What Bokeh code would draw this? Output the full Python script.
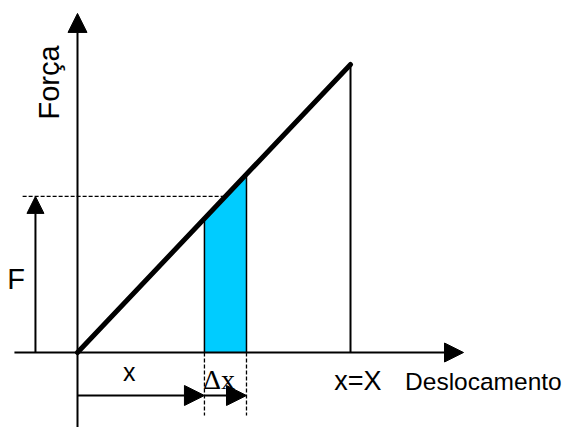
import math
from bokeh.plotting import figure
from bokeh.models import Range1d, Arrow, NormalHead
from bokeh.core.properties import value
from bokeh.embed import file_html
from bokeh.resources import INLINE

# ---- data (diagram units) ----
desloc = [0.0, 10.0]          # displacement from origin to x = X
forca = [0.0, 10.55]          # force along the straight line F = k*x
x_val = 4.65                  # position x of the strip
dx_val = 1.54                 # strip width (Delta x)
axis_labels = ["Força", "Deslocamento"]
point_labels = ["x", "\u0394x", "x=X", "F"]

k = forca[1] / desloc[1]
X = desloc[1]
x2 = x_val + dx_val
F_val = k * (x_val + dx_val / 2)

# ---- layout ----
S = 27.3  # px per unit
W, H = 566, 427
ox, oy = 77, 352  # origin in figure pixels
up = 0.22         # text baseline correction
p = figure(width=W, height=H, output_backend="svg", toolbar_location=None,
           x_axis_type=None, y_axis_type=None, min_border=0,
           x_range=Range1d(-ox / S, (W - ox) / S),
           y_range=Range1d(-(H - oy) / S, oy / S))
p.grid.visible = False
p.outline_line_color = None
p.background_fill_color = "white"
p.border_fill_color = "white"

# cyan strip under the line
p.patch([x_val, x_val, x2, x2], [0, k * x_val, k * x2, 0],
        fill_color="#00CCFF", line_color=None)
p.segment([x_val, x2], [0, 0], [x_val, x2], [k * x_val, k * x2],
          line_color="black", line_width=1.5)

# dashed guides
p.segment([x_val, x2], [0, 0], [x_val, x2], [-2.31, -2.31],
          line_color="black", line_width=1.3, line_dash="4 2")
p.segment([-2.01], [F_val], [F_val / k], [F_val],
          line_color="black", line_width=1.3, line_dash="4 2")

# vertical at x = X
p.segment([X], [0], [X], [forca[1]], line_color="black", line_width=2)

# force line
p.line(desloc, forca, line_color="black", line_width=5, line_cap="round")

def arrow(x0, y0, x1, y1, size, lw=2):
    p.add_layout(Arrow(x_start=x0, y_start=y0, x_end=x1, y_end=y1,
                       line_color="black", line_width=lw,
                       end=NormalHead(size=size, fill_color="black",
                                      line_color="black", line_width=1)))

# axes
arrow(-2.31, 0, 14.14, 0, 19)
arrow(0, -3.1, 0, 12.42, 19)
# F arrow
arrow(-1.54, 0, -1.54, F_val, 17)
# bottom arrows x and delta x
arrow(0, -1.575, x_val, -1.575, 20)
arrow(x_val, -1.575, x2, -1.575, 20)

# labels
sans = value("Liberation Sans")
p.text(x=[-1.06], y=[9.89], text=[axis_labels[0]], angle=math.pi / 2,
       text_align="center", text_baseline="middle",
       text_font=sans, text_font_size="29px", text_color="black")
p.text(x=[12.0], y=[-1.28 + up], text=[axis_labels[1]], text_align="left",
       text_baseline="alphabetic", text_font=sans, text_font_size="24.5px",
       text_color="black")
p.text(x=[1.9], y=[-0.95 + up], text=[point_labels[0]], text_align="center",
       text_baseline="alphabetic", text_font=sans, text_font_size="25px",
       text_color="black")
p.text(x=[5.18], y=[-1.21 + up], text=[point_labels[1]], text_align="center",
       text_baseline="alphabetic", text_font=value("Liberation Serif"),
       text_font_size="28px", text_color="black")
p.text(x=[X + 0.27], y=[-1.28 + up], text=[point_labels[2]], text_align="center",
       text_baseline="alphabetic", text_font=sans, text_font_size="27px",
       text_color="black")
p.text(x=[-2.25], y=[2.49 + up], text=[point_labels[3]], text_align="center",
       text_baseline="alphabetic", text_font=sans, text_font_size="29px",
       text_color="black")

open("out.html", "w").write(file_html(p, INLINE))
